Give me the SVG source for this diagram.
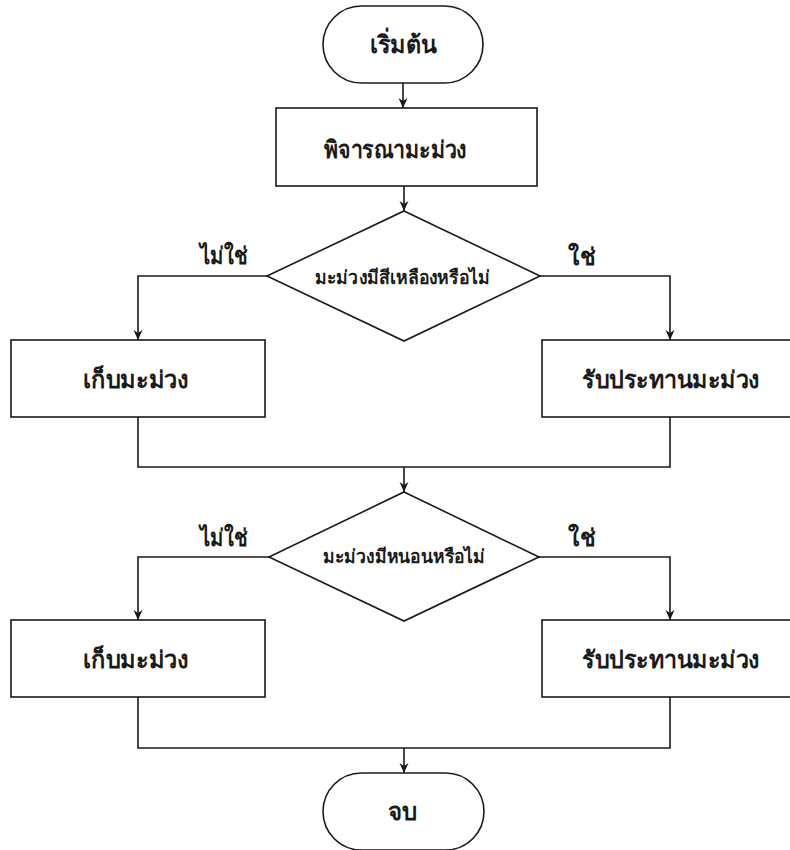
<svg xmlns="http://www.w3.org/2000/svg" width="790" height="850" viewBox="0 0 790 850">
<defs>
<marker id="arr" viewBox="0 0 10 10" refX="10" refY="5" markerWidth="10" markerHeight="10" markerUnits="userSpaceOnUse" orient="auto">
<path d="M0,0.5 L10,5 L0,9.5 L3,5 Z" fill="#1a1a1a"/>
</marker>
<style>
.shape{fill:#fff;stroke:#1a1a1a;stroke-width:1.6}
.line{fill:none;stroke:#1a1a1a;stroke-width:1.6}
.t{font-family:"Noto Sans","Liberation Sans",sans-serif;font-weight:bold;fill:#1a1a1a;text-anchor:middle}
.big{font-size:24px}
.mid{font-size:19px}
</style>
</defs>
<rect width="790" height="850" fill="#fff"/>
<g id="connectors">
<path class="line" d="M403,83 V108" marker-end="url(#arr)"/>
<path class="line" d="M404,186 V211" marker-end="url(#arr)"/>
<path class="line" d="M267,276 H138 V340" marker-end="url(#arr)"/>
<path class="line" d="M540,276 H670 V340" marker-end="url(#arr)"/>
<path class="line" d="M138,417 V467 H670 V417"/>
<path class="line" d="M404,467 V492" marker-end="url(#arr)"/>
<path class="line" d="M269,557 H138 V620" marker-end="url(#arr)"/>
<path class="line" d="M539,557 H670 V620" marker-end="url(#arr)"/>
<path class="line" d="M138,697 V748 H670 V697"/>
<path class="line" d="M404,748 V773" marker-end="url(#arr)"/>
</g>
<g id="start">
<rect class="shape" x="323" y="6" width="160" height="77" rx="38.5" ry="38.5"/>
<text class="t big" x="403.5" y="53" textLength="67" lengthAdjust="spacingAndGlyphs">เริ่มต้น</text>
</g>
<g id="consider">
<rect class="shape" x="276" y="108" width="261" height="78"/>
<text class="t big" x="395.5" y="158" textLength="143" lengthAdjust="spacingAndGlyphs">พิจารณามะม่วง</text>
</g>
<g id="decision1">
<polygon class="shape" points="404,211 540,276 404,341 267,276"/>
<text class="t mid" x="402.5" y="284" textLength="175" lengthAdjust="spacingAndGlyphs">มะม่วงมีสีเหลืองหรือไม่</text>
</g>
<g id="label-no-1"><text class="t big" x="223.5" y="264" textLength="47" lengthAdjust="spacingAndGlyphs">ไม่ใช่</text></g>
<g id="label-yes-1"><text class="t big" x="581.5" y="265" textLength="27" lengthAdjust="spacingAndGlyphs">ใช่</text></g>
<g id="keep1">
<rect class="shape" x="11" y="340" width="254" height="77"/>
<text class="t big" x="136" y="388" textLength="106" lengthAdjust="spacingAndGlyphs">เก็บมะม่วง</text>
</g>
<g id="eat1">
<rect class="shape" x="542" y="340" width="256" height="77"/>
<text class="t big" x="671" y="388" textLength="178" lengthAdjust="spacingAndGlyphs">รับประทานมะม่วง</text>
</g>
<g id="decision2">
<polygon class="shape" points="404,492 539,557 404,621 269,557"/>
<text class="t mid" x="404" y="563" textLength="162" lengthAdjust="spacingAndGlyphs">มะม่วงมีหนอนหรือไม่</text>
</g>
<g id="label-no-2"><text class="t big" x="223.5" y="546" textLength="47" lengthAdjust="spacingAndGlyphs">ไม่ใช่</text></g>
<g id="label-yes-2"><text class="t big" x="581.5" y="546" textLength="27" lengthAdjust="spacingAndGlyphs">ใช่</text></g>
<g id="keep2">
<rect class="shape" x="11" y="620" width="254" height="77"/>
<text class="t big" x="136" y="668" textLength="106" lengthAdjust="spacingAndGlyphs">เก็บมะม่วง</text>
</g>
<g id="eat2">
<rect class="shape" x="542" y="620" width="256" height="77"/>
<text class="t big" x="671" y="668" textLength="178" lengthAdjust="spacingAndGlyphs">รับประทานมะม่วง</text>
</g>
<g id="end">
<rect class="shape" x="323" y="773" width="161" height="77" rx="38.5" ry="38.5"/>
<text class="t big" x="402.5" y="820" textLength="29" lengthAdjust="spacingAndGlyphs">จบ</text>
</g>
</svg>
